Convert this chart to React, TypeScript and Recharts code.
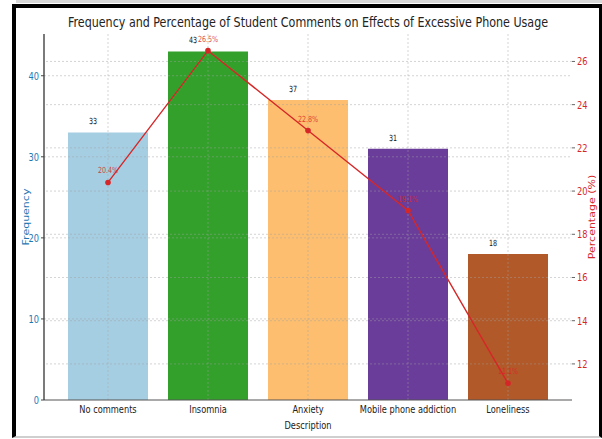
import React from 'react';
import {
  ComposedChart, Bar, Line, XAxis, YAxis, Cell, LabelList, ReferenceLine,
} from 'recharts';

const categories = ['No comments', 'Insomnia', 'Anxiety', 'Mobile phone addiction', 'Loneliness'];
const frequency = [33, 43, 37, 31, 18];
const percentage = [20.4, 26.5, 22.8, 19.1, 11.1];
const barColors = ['#a6cee3', '#33a02c', '#fdbf6f', '#6a3d9a', '#b15928'];
const freqTicks = [0, 10, 20, 30, 40];
const pctTicks = [12, 14, 16, 18, 20, 22, 24, 26];

const data = categories.map((name, i) => ({
  name,
  frequency: frequency[i],
  percentage: percentage[i],
}));

const FONT = '"DejaVu Sans", sans-serif';
const SQUASH = 0.75;
const BLUE = '#1f77b4';
const RED = '#d62728';
const GRID = '#a0a0a0';

const XTick = ({ x, y, payload }: any) => (
  <text
    transform={`translate(${x},${y + 13}) scale(${SQUASH},1)`}
    textAnchor="middle" fontSize={11} fontFamily={FONT} fill="#222"
  >
    {payload.value}
  </text>
);

const LeftTick = ({ x, y, payload }: any) => (
  <text
    transform={`translate(${x},${y + 4}) scale(${SQUASH},1)`}
    textAnchor="end" fontSize={11} fontFamily={FONT} fill={BLUE}
  >
    {payload.value}
  </text>
);

const RightTick = ({ x, y, payload }: any) => (
  <text
    transform={`translate(${x},${y + 4}) scale(${SQUASH},1)`}
    textAnchor="start" fontSize={11} fontFamily={FONT} fill={RED}
  >
    {payload.value}
  </text>
);

// count sits a little left of the bar centre, just above the top
const FreqLabel = ({ x, y, width, value }: any) => (
  <text
    transform={`translate(${x + width / 2 - 15},${y - 8}) scale(${SQUASH},1)`}
    textAnchor="middle" fontSize={8.5} fontFamily={FONT} fill="#111"
  >
    {value}
  </text>
);

const PctLabel = ({ x, y, value }: any) => (
  <text
    transform={`translate(${x},${y - 9}) scale(${SQUASH},1)`}
    textAnchor="middle" fontSize={8.5} fontFamily={FONT} fill={RED} fillOpacity={0.85}
  >
    {value}%
  </text>
);

export default function App() {
  return (
    <div style={{ position: 'absolute', left: 0, top: 0, width: 602, height: 439, background: '#fff', overflow: 'hidden' }}>
      <ComposedChart width={602} height={439} data={data} margin={{ top: 34, right: 0, bottom: 0, left: 0 }}>
        <XAxis
          dataKey="name" height={39} padding={{ left: 14, right: 14 }}
          tick={<XTick />} tickLine={false} tickSize={0} tickMargin={0}
          axisLine={{ stroke: '#555', strokeWidth: 1.2 }} interval={0}
        />
        <YAxis
          yAxisId="left" width={44} domain={[0, 45.15]} ticks={freqTicks}
          tick={<LeftTick />} tickSize={3} tickMargin={2}
          tickLine={{ stroke: '#444' }} axisLine={{ stroke: '#222', strokeWidth: 1.2 }}
        />
        <YAxis
          yAxisId="right" orientation="right" width={30} domain={[10.33, 27.27]} ticks={pctTicks}
          tick={<RightTick />} tickSize={3} tickMargin={2}
          tickLine={{ stroke: '#666' }} axisLine={false}
        />
        <Bar dataKey="frequency" yAxisId="left" barSize={80} isAnimationActive={false}>
          {data.map((d, i) => <Cell key={d.name} fill={barColors[i]} />)}
          <LabelList dataKey="frequency" content={<FreqLabel />} />
        </Bar>
        {freqTicks.slice(1).map((t) => (
          <ReferenceLine key={`f${t}`} yAxisId="left" y={t} stroke={GRID} strokeOpacity={0.45} strokeDasharray="2 2" />
        ))}
        {pctTicks.map((t) => (
          <ReferenceLine key={`p${t}`} yAxisId="right" y={t} stroke={GRID} strokeOpacity={0.45} strokeDasharray="2 2" />
        ))}
        {categories.map((c) => (
          <ReferenceLine key={c} yAxisId="left" x={c} stroke={GRID} strokeOpacity={0.45} strokeDasharray="2 2" />
        ))}
        <Line
          dataKey="percentage" yAxisId="right" stroke={RED} strokeWidth={1.4}
          dot={{ r: 2.8, fill: RED, stroke: RED, strokeWidth: 0 }} activeDot={false}
          isAnimationActive={false}
        >
          <LabelList dataKey="percentage" content={<PctLabel />} />
        </Line>
      </ComposedChart>

      <svg width={602} height={439} style={{ position: 'absolute', left: 0, top: 0, pointerEvents: 'none' }}>
        <text
          transform="translate(308,27) scale(0.795,1)"
          textAnchor="middle" fontSize={14} fontFamily={FONT} fill="#222"
        >
          Frequency and Percentage of Student Comments on Effects of Excessive Phone Usage
        </text>
        <text
          transform={`translate(308,429) scale(${SQUASH},1)`}
          textAnchor="middle" fontSize={11} fontFamily={FONT} fill="#222"
        >
          Description
        </text>
        <text
          transform={`translate(29,217) scale(${SQUASH},1) rotate(-90)`}
          textAnchor="middle" fontSize={11} fontFamily={FONT} fill={BLUE}
        >
          Frequency
        </text>
        <text
          transform={`translate(595,217) scale(${SQUASH},1) rotate(-90)`}
          textAnchor="middle" fontSize={11} fontFamily={FONT} fill={RED}
        >
          Percentage (%)
        </text>
      </svg>

      <div style={{ position: 'absolute', left: 16, top: 0, width: 586, height: 3, background: '#d8d8d8' }} />
      <div
        style={{
          position: 'absolute', left: 12, top: 4, width: 590, height: 434, boxSizing: 'border-box',
          borderLeft: '4px solid #000', borderTop: '4px solid #000', borderRight: '3px solid #000',
          borderBottom: '2px solid #cfcfcf', pointerEvents: 'none',
        }}
      />
    </div>
  );
}
